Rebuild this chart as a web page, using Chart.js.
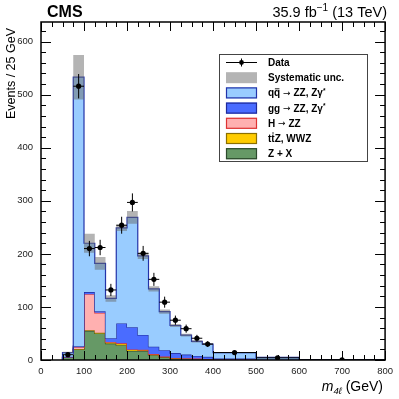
<!DOCTYPE html>
<html><head><meta charset="utf-8">
<script src="https://cdn.jsdelivr.net/npm/chart.js@4.4.1/dist/chart.umd.min.js"></script>
<style>html,body{margin:0;padding:0;background:#fff;}canvas{display:block;}</style>
</head><body>
<canvas id="c" width="399" height="399"></canvas>
<script>
// ---- data (events / 25 GeV) ----
const binEdges = [50,75,100,125,150,175,200,225,250,275,300,325,350,375,400,500,600,800];
const zPlusX   = [5, 20, 55, 50, 31, 28, 17, 17, 9, 5, 3, 2.5, 2, 1.5, 0.8, 0.3, 0.1];
const ttZ      = [0, 0.5, 1, 1.5, 2, 3, 2.5, 2, 2, 1.5, 1, 0.8, 0.6, 0.5, 0.3, 0.1, 0];
const higgs    = [0.3, 3.5, 68, 37.5, 1, 0.5, 0.3, 0.2, 0.1, 0, 0, 0, 0, 0, 0, 0, 0];
const ggZZ     = [0.7, 2, 4, 3, 7, 37.5, 42, 28, 14, 12, 9, 7, 5, 4, 1.5, 0.6, 0.2];
const qqZZ     = [8, 507, 92, 90, 75, 180, 207, 149, 109, 72.5, 52, 36.7, 27.4, 24, 11.4, 4, 0.4];
const sysUnc   = [1.5, 42, 18, 12, 6, 6, 12, 6, 5, 4, 3, 2.5, 2, 1.5, 1, 0.5, 0.1];
const dataVals = [10, 516, 210, 212, 132, 254, 297, 201, 152, 109, 75, 59, 41, 30, 14, 4, 0.5];
const dataErr  = [3.2, 23, 14.5, 14.5, 11.5, 16, 17, 14, 12.3, 10.4, 8.7, 7.7, 6.4, 5.5, 1.9, 1, 0.5];
const xTicks = [0,100,200,300,400,500,600,700,800];
const yTicks = [0,100,200,300,400,500,600];

// ---- helpers ----
function cumulate(...arrs){const out=[];let acc=new Array(arrs[0].length).fill(0);
  for(const a of arrs){acc=acc.map((v,i)=>v+a[i]);out.push(acc.slice());}return out;}
const cum = cumulate(zPlusX, ttZ, higgs, ggZZ, qqZZ);
const total = cum[4];
function stepPts(vals, closed){
  const n=binEdges.length-1, pts=[];
  if(closed) pts.push({x:binEdges[0],y:0});
  for(let i=0;i<n;i++) pts.push({x:binEdges[i],y:vals[i]});
  pts.push({x:binEdges[n],y:vals[n-1]});
  if(closed) pts.push({x:binEdges[n],y:0});
  return pts;
}
const FONT='"Liberation Sans", Arial, Helvetica, sans-serif';
const comps=[
 {fill:'#669966',line:'#2c4a2c'},
 {fill:'#ffcc00',line:'#8c7000'},
 {fill:'#ffb0b0',line:'#dd3333'},
 {fill:'#4a6cff',line:'#1f2a99'},
 {fill:'#99ccff',line:'#2233aa'}
];
const datasets=[];
comps.forEach((c,k)=>{
  datasets.push({data:stepPts(cum[k],true),stepped:'before',borderColor:c.line,borderWidth:1.2,
    backgroundColor:c.fill,fill:k===0?'origin':'-1',pointRadius:0,order:10-k});
});
datasets.push({data:stepPts(total.map((v,i)=>v-sysUnc[i]),false),stepped:'before',borderWidth:0,
  borderColor:'rgba(0,0,0,0)',fill:false,pointRadius:0,order:3});
datasets.push({data:stepPts(total.map((v,i)=>v+sysUnc[i]),false),stepped:'before',borderWidth:0,
  borderColor:'rgba(0,0,0,0)',backgroundColor:'rgba(105,105,105,0.5)',fill:'-1',pointRadius:0,order:2});
datasets.push({data:dataVals.map((v,i)=>({x:(binEdges[i]+binEdges[i+1])/2,y:v})),showLine:false,
  pointRadius:2.6,pointBackgroundColor:'#000',pointBorderColor:'#000',pointBorderWidth:0,order:0});

const errPlugin={id:'err',afterDatasetsDraw(chart){
  const ctx=chart.ctx,xs=chart.scales.x,ys=chart.scales.y,a=chart.chartArea;
  ctx.save();ctx.beginPath();ctx.rect(a.left,a.top,a.right-a.left,a.bottom-a.top);ctx.clip();
  ctx.strokeStyle='#000';ctx.lineWidth=1;
  dataVals.forEach((v,i)=>{
    const cx=xs.getPixelForValue((binEdges[i]+binEdges[i+1])/2),y=ys.getPixelForValue(v);
    ctx.beginPath();
    ctx.moveTo(xs.getPixelForValue(binEdges[i]),y);ctx.lineTo(xs.getPixelForValue(binEdges[i+1]),y);
    ctx.moveTo(cx,ys.getPixelForValue(v+dataErr[i]));ctx.lineTo(cx,ys.getPixelForValue(Math.max(0,v-dataErr[i])));
    ctx.stroke();
  });
  ctx.restore();
}};

function rich(ctx,x,y,parts,align){
  let w=0;parts.forEach(p=>{ctx.font=p.f;w+=ctx.measureText(p.t).width;});
  let cx=align==='right'?x-w:x;
  parts.forEach(p=>{ctx.font=p.f;ctx.fillText(p.t,cx,y+(p.dy||0));
    const pw=ctx.measureText(p.t).width;
    if(p.bar){ctx.save();ctx.lineWidth=0.9;ctx.strokeStyle=ctx.fillStyle;ctx.beginPath();
      ctx.moveTo(cx+0.8,y-p.bar);ctx.lineTo(cx+pw-0.8,y-p.bar);ctx.stroke();ctx.restore();}
    cx+=pw;});
}

const framePlugin={id:'frame',afterDraw(chart){
  const ctx=chart.ctx,xs=chart.scales.x,ys=chart.scales.y,a=chart.chartArea;
  ctx.save();
  ctx.strokeStyle='#000';ctx.lineWidth=1;
  ctx.beginPath();
  for(let v=0;v<=800;v+=25){const px=Math.round(xs.getPixelForValue(v))+0.5,L=(v%100===0)?9:5;
    ctx.moveTo(px,a.bottom);ctx.lineTo(px,a.bottom-L);ctx.moveTo(px,a.top);ctx.lineTo(px,a.top+L);}
  for(let v=0;v<=637;v+=20){const py=Math.round(ys.getPixelForValue(v))+0.5,L=(v%100===0)?10:5;
    ctx.moveTo(a.left,py);ctx.lineTo(a.left+L,py);ctx.moveTo(a.right,py);ctx.lineTo(a.right-L,py);}
  ctx.stroke();
  ctx.lineWidth=1.5;ctx.strokeRect(a.left,a.top,a.right-a.left,a.bottom-a.top);
  // texts
  ctx.fillStyle='#000';ctx.textBaseline='alphabetic';ctx.textAlign='left';
  ctx.font='bold 16px '+FONT;ctx.fillText('CMS',47,17);
  rich(ctx,387,17,[{t:'35.9 fb',f:'14.5px '+FONT},{t:'\u22121',f:'10px '+FONT,dy:-6},{t:' (13 TeV)',f:'14.5px '+FONT}],'right');
  rich(ctx,383,391,[{t:'m',f:'italic 14px '+FONT},{t:'4\u2113',f:'italic 9.5px '+FONT,dy:3},{t:' (GeV)',f:'14px '+FONT}],'right');
  ctx.save();ctx.translate(15,28);ctx.rotate(-Math.PI/2);ctx.font='12.5px '+FONT;ctx.textAlign='right';
  ctx.fillText('Events / 25 GeV',0,0);ctx.restore();
  // legend
  ctx.fillStyle='#fff';ctx.fillRect(219,54,148,107);
  ctx.strokeStyle='#444';ctx.lineWidth=1;ctx.strokeRect(219.5,54.5,148,107);
  const rows=[62.5,77.7,92.9,108.1,123.3,138.5,153.7];
  const sx=226,sw=31,sh=11,tx=268;
  ctx.strokeStyle='#000';ctx.beginPath();ctx.moveTo(sx,rows[0]);ctx.lineTo(sx+sw,rows[0]);
  ctx.moveTo(sx+sw/2,rows[0]-4);ctx.lineTo(sx+sw/2,rows[0]+4);ctx.stroke();
  ctx.fillStyle='#000';ctx.beginPath();ctx.arc(sx+sw/2,rows[0],2.4,0,Math.PI*2);ctx.fill();
  ctx.fillStyle='#b4b4b4';ctx.fillRect(sx,rows[1]-sh/2,sw,sh);
  const sw2=[comps[4],comps[3],comps[2],comps[1],comps[0]];
  sw2.forEach((c,k)=>{const y=rows[k+2];ctx.fillStyle=c.fill;ctx.fillRect(sx,y-sh/2,sw,sh);
    ctx.strokeStyle=c.line;ctx.lineWidth=1.2;ctx.strokeRect(sx+0.5,y-sh/2+0.5,sw-1,sh-1);});
  ctx.fillStyle='#000';
  const B='bold 10px '+FONT, S='bold 6.5px '+FONT, A='9px "DejaVu Sans", sans-serif';
  const labels=[
    [{t:'Data',f:B}],
    [{t:'Systematic unc.',f:B}],
    [{t:'q',f:B},{t:'q',f:B,bar:7.6},{t:' \u2192 ',f:A,dy:-0.5},{t:'ZZ, Z\u03b3',f:B},{t:'*',f:S,dy:-3.5}],
    [{t:'gg',f:B},{t:' \u2192 ',f:A,dy:-0.5},{t:'ZZ, Z\u03b3',f:B},{t:'*',f:S,dy:-3.5}],
    [{t:'H',f:B},{t:' \u2192 ',f:A,dy:-0.5},{t:'ZZ',f:B}],
    [{t:'t',f:B},{t:'t',f:B,bar:9},{t:'Z, WWZ',f:B}],
    [{t:'Z + X',f:B}]
  ];
  labels.forEach((p,k)=>rich(ctx,tx,rows[k]+3.5,p,'left'));
  ctx.restore();
}};

new Chart(document.getElementById('c'),{
  type:'line',
  data:{datasets},
  options:{
    responsive:false,animation:false,devicePixelRatio:1,
    layout:{padding:{top:22,right:11,left:0,bottom:0}},
    plugins:{legend:{display:false},tooltip:{enabled:false},filler:{propagate:false}},
    scales:{
      x:{type:'linear',min:0,max:800,
        ticks:{stepSize:100,maxRotation:0,padding:6,color:'#222',font:{family:FONT,size:9.5},
          callback:v=>xTicks.includes(v)?String(v):''},
        grid:{display:false,drawTicks:false},border:{display:false},
        afterFit(s){s.height=39;}},
      y:{type:'linear',min:0,max:637,
        ticks:{stepSize:100,includeBounds:false,padding:8,color:'#222',font:{family:FONT,size:9.5},
          callback:v=>yTicks.includes(v)?String(v):''},
        grid:{display:false,drawTicks:false},border:{display:false},
        afterFit(s){s.width=41;}}
    }
  },
  plugins:[errPlugin,framePlugin]
});
</script>
</body></html>
